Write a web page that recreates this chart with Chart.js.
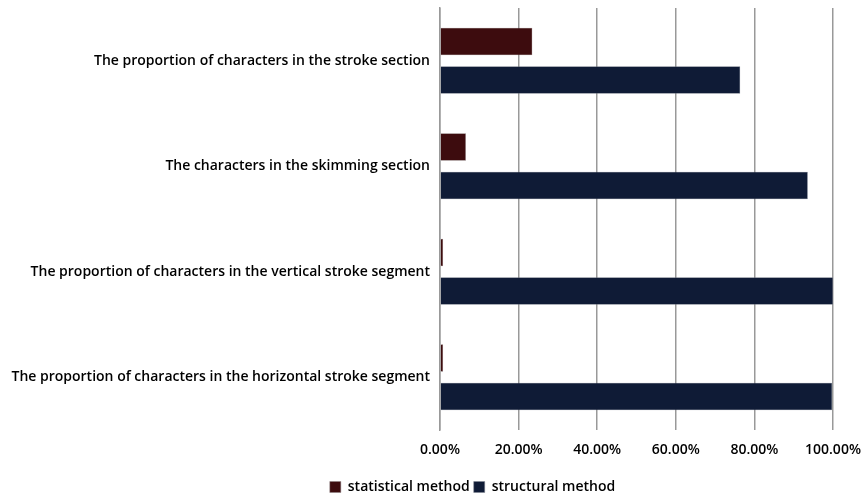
<!DOCTYPE html>
<html>
<head>
<meta charset="utf-8">
<script src="https://cdn.jsdelivr.net/npm/chart.js@4"></script>
<style>
  html, body { margin: 0; padding: 0; background: #fff; }
  #wrap { width: 865px; height: 498px; }
</style>
</head>
<body>
<div id="wrap"><canvas id="myChart"></canvas></div>
<script>
const categories = [
    "The proportion of characters in the stroke section",
    "The characters in the skimming section",
    "The proportion of characters in the vertical stroke segment",
    "The proportion of characters in the horizontal stroke segment"
];
const statistical = [23.5, 6.6, 0.8, 0.8];
const structural = [76.4, 93.6, 100, 99.8];
const xTicks = [0, 20, 40, 60, 80, 100];

const font = { family: "'Open Sans', sans-serif", size: 14, weight: '600' };

// legend sits a bit right of centre in the original
const shiftLegend = {
    id: 'shiftLegend',
    afterLayout(chart) {
        chart.legend.left += 40;
        chart.legend.right += 40;
    }
};

const myChart = new Chart(document.getElementById('myChart'), {
    type: 'bar',
    data: {
        labels: categories,
        datasets: [{
            label: 'statistical method',
            data: statistical,
            backgroundColor: '#3d0c0e',
            borderColor: '#8a7f80',
            borderWidth: 0.5,
            categoryPercentage: 0.73,
            barPercentage: 0.72
        }, {
            label: 'structural method',
            data: structural,
            backgroundColor: '#0f1b36',
            borderColor: '#7f8490',
            borderWidth: 0.5,
            categoryPercentage: 0.73,
            barPercentage: 0.72
        }]
    },
    plugins: [shiftLegend],
    options: {
        indexAxis: 'y',
        responsive: true,
        maintainAspectRatio: false,
        animation: false,
        layout: { padding: { top: 8, left: 0, right: 0, bottom: -6 } },
        plugins: {
            legend: {
                position: 'bottom',
                labels: {
                    color: '#000',
                    font: font,
                    boxWidth: 11,
                    boxHeight: 11,
                    padding: 4
                }
            },
            tooltip: { enabled: false }
        },
        scales: {
            x: {
                min: 0,
                max: 100,
                afterBuildTicks: (axis) => { axis.ticks = xTicks.map(v => ({ value: v })); },
                afterFit: (axis) => {
                    axis.height = 46;
                    axis.paddingRight = 32;
                },
                ticks: {
                    color: '#000',
                    font: font,
                    padding: 12,
                    callback: (v) => v.toFixed(2) + '%'
                },
                grid: {
                    color: '#999',
                    lineWidth: 1.5,
                    tickLength: 0,
                    drawTicks: false
                },
                border: { display: false }
            },
            y: {
                afterFit: (axis) => {
                    axis.width = 440;
                    axis.paddingTop = 0;
                    axis.paddingBottom = 0;
                },
                ticks: {
                    color: '#000',
                    font: font,
                    padding: 10
                },
                grid: { display: false, tickLength: 0 },
                border: { display: true, color: '#999', width: 1.5 }
            }
        }
    }
});
</script>
</body>
</html>
